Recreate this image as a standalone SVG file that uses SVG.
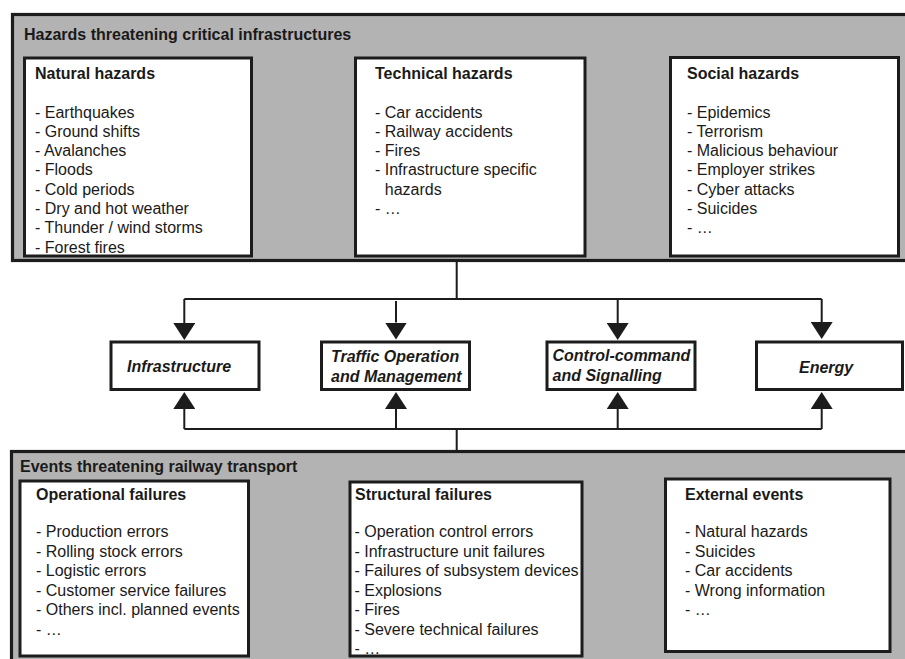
<svg xmlns="http://www.w3.org/2000/svg" width="905" height="659" viewBox="0 0 905 659">
  <style>
    .panel { fill: #b3b3b3; stroke: #1c1c1c; stroke-width: 3.2; }
    .box { fill: #ffffff; stroke: #1c1c1c; stroke-width: 3; }
    .head { font-family: "Liberation Sans", Arial, sans-serif; font-size: 16px; font-weight: bold; fill: #1a1a1a; }
    .item { font-family: "Liberation Sans", Arial, sans-serif; font-size: 16px; fill: #1a1a1a; }
    .area { font-family: "Liberation Sans", Arial, sans-serif; font-size: 16px; font-weight: bold; font-style: italic; fill: #1a1a1a; }
    .wire { fill: none; stroke: #1c1c1c; stroke-width: 2; }
  </style>
  <defs>
    <marker id="arrow" viewBox="0 0 17 22" refX="0" refY="11" markerWidth="17" markerHeight="22" markerUnits="userSpaceOnUse" orient="auto">
      <path d="M0,0 L17,11 L0,22 z" fill="#1c1c1c"/>
    </marker>
  </defs>

  <rect width="905" height="659" fill="#ffffff"/>

  <!-- Upper panel: hazards -->
  <g id="hazards-panel">
    <rect class="panel" x="12.5" y="14.5" width="900" height="246"/>
    <text class="head" x="24" y="40">Hazards threatening critical infrastructures</text>
  </g>

  <g id="natural-hazards">
    <rect class="box" x="24.5" y="58" width="227" height="198"/>
    <text class="head" x="35" y="78.5">Natural hazards</text>
    <text class="item" x="35" y="117.5">- Earthquakes</text>
    <text class="item" x="35" y="136.8">- Ground shifts</text>
    <text class="item" x="35" y="156.1">- Avalanches</text>
    <text class="item" x="35" y="175.4">- Floods</text>
    <text class="item" x="35" y="194.7">- Cold periods</text>
    <text class="item" x="35" y="214">- Dry and hot weather</text>
    <text class="item" x="35" y="233.3">- Thunder / wind storms</text>
    <text class="item" x="35" y="252.6">- Forest fires</text>
  </g>

  <g id="technical-hazards">
    <rect class="box" x="355.5" y="58" width="229.5" height="198"/>
    <text class="head" x="375" y="78.5">Technical hazards</text>
    <text class="item" x="375" y="117.5">- Car accidents</text>
    <text class="item" x="375" y="136.8">- Railway accidents</text>
    <text class="item" x="375" y="156.1">- Fires</text>
    <text class="item" x="375" y="175.4">- Infrastructure specific</text>
    <text class="item" x="384.8" y="194.7">hazards</text>
    <text class="item" x="375" y="214">- …</text>
  </g>

  <g id="social-hazards">
    <rect class="box" x="670.5" y="57.5" width="228" height="198.5"/>
    <text class="head" x="687" y="78.5">Social hazards</text>
    <text class="item" x="687" y="117.5">- Epidemics</text>
    <text class="item" x="687" y="136.8">- Terrorism</text>
    <text class="item" x="687" y="156.1">- Malicious behaviour</text>
    <text class="item" x="687" y="175.4">- Employer strikes</text>
    <text class="item" x="687" y="194.7">- Cyber attacks</text>
    <text class="item" x="687" y="214">- Suicides</text>
    <text class="item" x="687" y="233.3">- …</text>
  </g>

  <!-- Railway subsystems -->
  <g id="infrastructure">
    <rect class="box" x="111" y="342" width="148" height="47.5"/>
    <text class="area" x="127" y="372">Infrastructure</text>
  </g>

  <g id="traffic-operation">
    <rect class="box" x="321.5" y="342" width="148" height="47.5"/>
    <text class="area" x="331" y="362">Traffic Operation</text>
    <text class="area" x="331" y="382">and Management</text>
  </g>

  <g id="control-command">
    <rect class="box" x="547" y="342" width="148" height="47.5"/>
    <text class="area" x="552.5" y="361">Control-command</text>
    <text class="area" x="552.5" y="381">and Signalling</text>
  </g>

  <g id="energy">
    <rect class="box" x="756.5" y="342" width="146" height="47.5"/>
    <text class="area" x="799" y="373">Energy</text>
  </g>

  <!-- Connectors -->
  <g id="connectors">
    <path class="wire" d="M456.7,262 V299 M184.3,299 H821.7"/>
    <path class="wire" d="M184.3,299 V323" marker-end="url(#arrow)"/>
    <path class="wire" d="M396,301 V322.5" marker-end="url(#arrow)"/>
    <path class="wire" d="M617.7,299 V323" marker-end="url(#arrow)"/>
    <path class="wire" d="M821.7,299 V322" marker-end="url(#arrow)"/>

    <path class="wire" d="M456.7,450 V429 M184.3,429 H821.7"/>
    <path class="wire" d="M184.3,429 V409" marker-end="url(#arrow)"/>
    <path class="wire" d="M396,429 V409" marker-end="url(#arrow)"/>
    <path class="wire" d="M617.7,429 V409" marker-end="url(#arrow)"/>
    <path class="wire" d="M821.7,429 V409" marker-end="url(#arrow)"/>
  </g>

  <!-- Lower panel: events -->
  <g id="events-panel">
    <rect class="panel" x="11.5" y="451.5" width="900" height="300"/>
    <text class="head" x="20" y="471.5">Events threatening railway transport</text>
  </g>

  <g id="operational-failures">
    <rect class="box" x="20" y="481" width="228.5" height="175"/>
    <text class="head" x="36" y="499.5">Operational failures</text>
    <text class="item" x="36" y="537">- Production errors</text>
    <text class="item" x="36" y="556.5">- Rolling stock errors</text>
    <text class="item" x="36" y="576">- Logistic errors</text>
    <text class="item" x="36" y="595.5">- Customer service failures</text>
    <text class="item" x="36" y="615">- Others incl. planned events</text>
    <text class="item" x="36" y="634.5">- …</text>
  </g>

  <g id="structural-failures">
    <rect class="box" x="350" y="482" width="232" height="174"/>
    <text class="head" x="355" y="499.5">Structural failures</text>
    <text class="item" x="354.5" y="537">- Operation control errors</text>
    <text class="item" x="354.5" y="556.5">- Infrastructure unit failures</text>
    <text class="item" x="354.5" y="576">- Failures of subsystem devices</text>
    <text class="item" x="354.5" y="595.5">- Explosions</text>
    <text class="item" x="354.5" y="615">- Fires</text>
    <text class="item" x="354.5" y="634.5">- Severe technical failures</text>
    <text class="item" x="354.5" y="654">- …</text>
  </g>

  <g id="external-events">
    <rect class="box" x="665.5" y="479" width="224.5" height="172.5"/>
    <text class="head" x="685" y="499.5">External events</text>
    <text class="item" x="685" y="537">- Natural hazards</text>
    <text class="item" x="685" y="556.5">- Suicides</text>
    <text class="item" x="685" y="576">- Car accidents</text>
    <text class="item" x="685" y="595.5">- Wrong information</text>
    <text class="item" x="685" y="615">- …</text>
  </g>
</svg>
